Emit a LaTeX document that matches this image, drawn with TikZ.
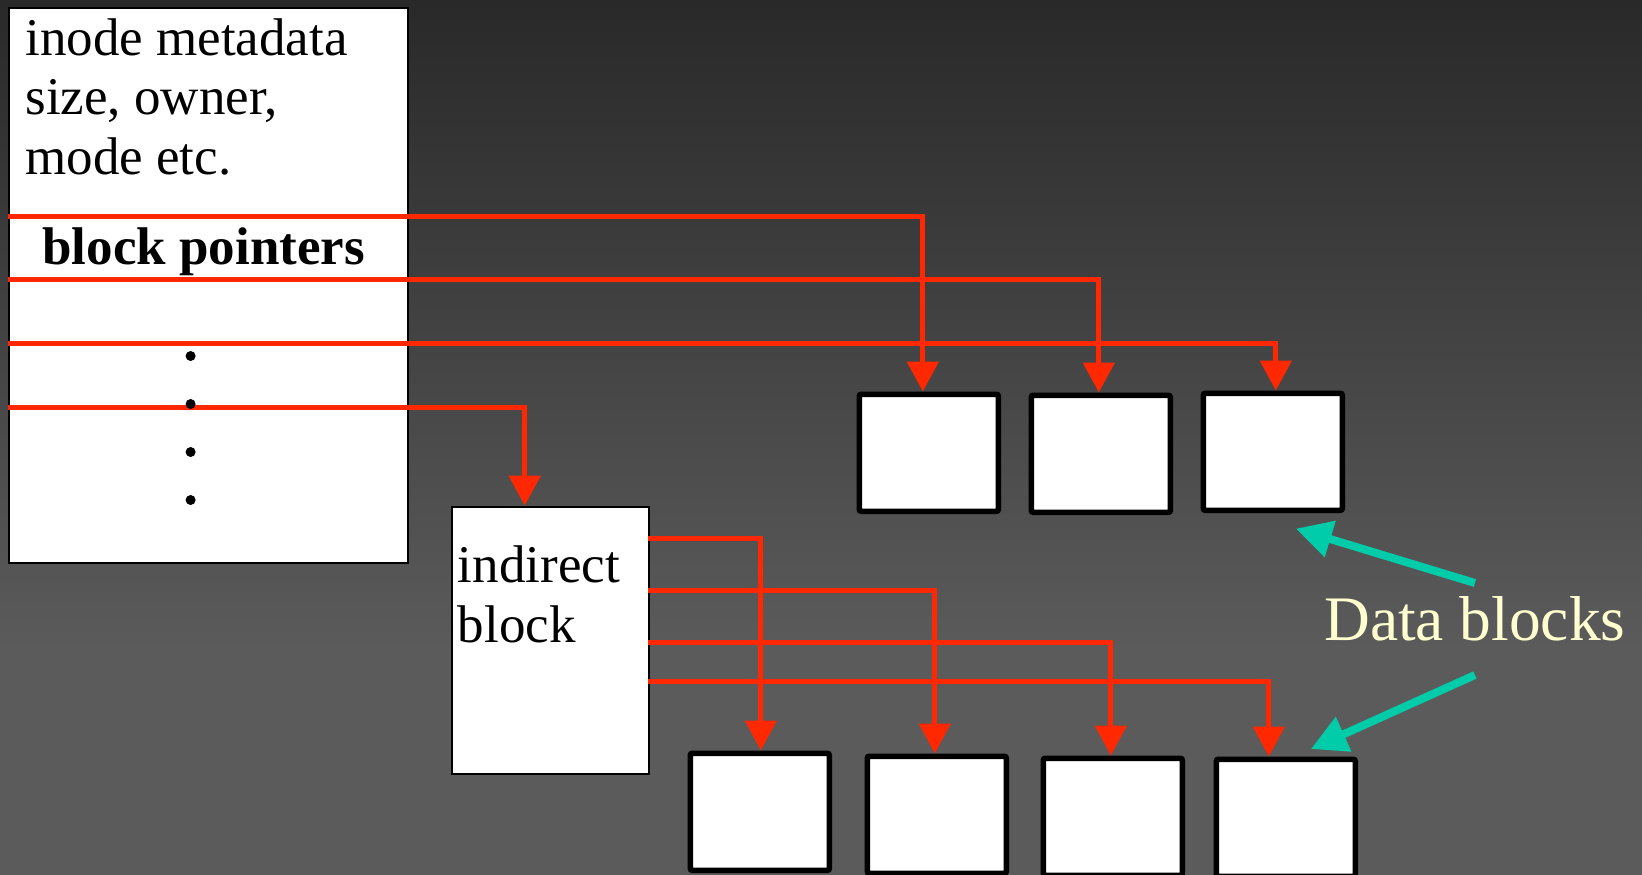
\documentclass[tikz,border=0pt]{standalone}
\usepackage{fontspec}
\setmainfont{Liberation Serif}
\usetikzlibrary{arrows.meta}
\definecolor{ptrred}{RGB}{255,40,0}
\definecolor{tealarrow}{RGB}{0,204,170}
\definecolor{cream}{RGB}{255,255,208}
\definecolor{bgtop}{RGB}{41,41,41}
\definecolor{bgbot}{RGB}{91,91,91}
% slide background: dark at the top, lighter grey from about 3/4 down
\pgfdeclareverticalshading{slidebg}{100bp}{color(0bp)=(bgbot); color(37.8bp)=(bgbot); color(75bp)=(bgtop); color(100bp)=(bgtop)}

\begin{document}
\begin{tikzpicture}[x=0.5pt,y=-0.5pt,
  txt/.style={inner sep=0pt, anchor=base west, font=\fontsize{26.5}{30}\selectfont},
  plainbox/.style={draw=black, line width=1pt, fill=white, anchor=north west, inner sep=0pt},
  datablock/.style={draw=black, line width=2.8pt, fill=white, rounded corners=1pt,
    anchor=north west, inner sep=0pt, minimum width=69.5pt, minimum height=58.5pt},
  ptr/.style={draw=ptrred, line width=2.5pt, -{Triangle[length=15pt,width=15.5pt]}},
  note/.style={draw=tealarrow, line width=4pt, -{Triangle[length=18pt,width=18pt]}},
  dotmark/.style={circle, fill=black, inner sep=0pt, minimum size=5pt}
]
\useasboundingbox (0,0) rectangle (1642,874);
\shade[shading=slidebg] (0,0) rectangle (1642,874);

% inode
\node[plainbox, minimum width=199.5pt, minimum height=277.5pt] (inode) at (8,7) {};
\node[txt] (meta1) at (25,55) {inode metadata};
\node[txt] (meta2) at (25,114.5) {size, owner,};
\node[txt] (meta3) at (25,174) {mode etc.};
\node[txt, font=\fontsize{26.5}{30}\selectfont\bfseries] (bp) at (42,264) {block pointers};

% indirect block
\node[plainbox, minimum width=98.3pt, minimum height=133.6pt] (ind) at (451.4,505.7) {};
\node[txt] (ind1) at (457.5,582) {indirect};
\node[txt] (ind2) at (457.5,642) {block};

% data blocks reached directly
\node[datablock] (d1) at (856.5,391.5) {};
\node[datablock] (d2) at (1028.5,392.5) {};
\node[datablock] (d3) at (1200.5,390.5) {};

% data blocks reached through the indirect block
\node[datablock] (e1) at (687.5,750.5) {};
\node[datablock] (e2) at (864.5,753.5) {};
\node[datablock] (e3) at (1040.5,755.5) {};
\node[datablock] (e4) at (1213.5,756.5) {};

% pointer slots in the inode
\coordinate (p1) at (8,216);
\coordinate (p2) at (8,279);
\coordinate (p3) at (8,343);
\coordinate (p4) at (8,407);

% pointer slots in the indirect block
\coordinate (q1) at (648,538);
\coordinate (q2) at (648,590);
\coordinate (q3) at (648,642);
\coordinate (q4) at (648,681);

\draw[ptr] (p1) -| ([xshift=-3pt]d1.north);
\draw[ptr] (p2) -| ([xshift=-1pt]d2.north);
\draw[ptr] (p3) -| ([xshift=1.5pt]d3.north);
\draw[ptr] (p4) -| ([xshift=-13pt]ind.north);

\draw[ptr] (q1) -| ([xshift=0.5pt]e1.north);
\draw[ptr] (q2) -| ([xshift=-1pt]e2.north);
\draw[ptr] (q3) -| ([xshift=-1pt]e3.north);
\draw[ptr] (q4) -| ([xshift=-8.5pt]e4.north);

% vertical ellipsis in the pointer list
\node[dotmark] (dot1) at (190.6,356) {};
\node[dotmark] (dot2) at (190.6,404) {};
\node[dotmark] (dot3) at (190.6,452) {};
\node[dotmark] (dot4) at (190.6,500) {};

% label
\node[inner sep=0pt, anchor=base west, text=cream, font=\fontsize{31.7}{36}\selectfont] (lbl) at (1324,640) {Data blocks};
\draw[note] ([yshift=28.5pt]lbl.base) -- ([xshift=11.5pt,yshift=-7.75pt]d3.south);
\draw[note] ([yshift=-17.5pt]lbl.base) -- ([xshift=12.5pt,yshift=3.75pt]e4.north);
\end{tikzpicture}
\end{document}
